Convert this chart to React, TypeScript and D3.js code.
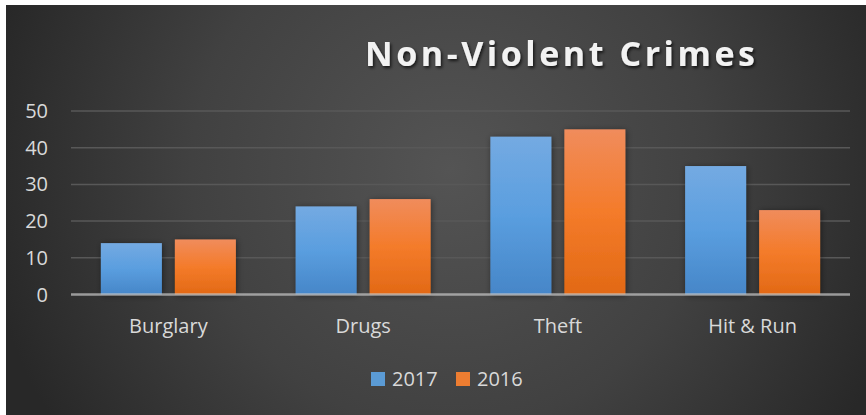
import React from "react";
import * as d3 from "d3";

const categories = ["Burglary", "Drugs", "Theft", "Hit & Run"];
const series2017 = [14, 24, 43, 35];
const series2016 = [15, 26, 45, 23];
const seriesNames = ["2017", "2016"];
const yTicks = [0, 10, 20, 30, 40, 50];
const title = "Non-Violent Crimes";

const W = 866;
const H = 415;
const plot = { left: 71, right: 850, top: 111, bottom: 294.5 };
const font = "'Open Sans', sans-serif";

export default function App() {
  const x0 = d3.scaleBand<string>().domain(categories).range([plot.left, plot.right]).paddingInner(0).paddingOuter(0);
  const y = d3.scaleLinear().domain([0, 50]).range([plot.bottom, plot.top]);
  const bw = 61;
  const gap = 13;
  const data = [series2017, series2016];
  const fills = ["url(#gBlue)", "url(#gOrange)"];
  const legendFills = ["#5b9bd5", "#ed7d31"];

  return (
    <svg width={W} height={H} style={{ position: "absolute", left: 0, top: 0, display: "block" }}>
      <defs>
        <radialGradient id="bg" gradientUnits="userSpaceOnUse" cx={450} cy={170} r={470}>
          <stop offset="0" stopColor="#545454" />
          <stop offset="0.55" stopColor="#414141" />
          <stop offset="1" stopColor="#282828" />
        </radialGradient>
        <linearGradient id="gBlue" x1="0" y1="0" x2="0" y2="1">
          <stop offset="0" stopColor="#74aae2" />
          <stop offset="0.5" stopColor="#5a9edf" />
          <stop offset="1" stopColor="#4686c8" />
        </linearGradient>
        <linearGradient id="gOrange" x1="0" y1="0" x2="0" y2="1">
          <stop offset="0" stopColor="#f08c5c" />
          <stop offset="0.5" stopColor="#f47b2a" />
          <stop offset="1" stopColor="#e26915" />
        </linearGradient>
        <filter id="barShadow" x="-20%" y="-20%" width="140%" height="140%">
          <feDropShadow dx="1" dy="1" stdDeviation="3" floodColor="#000" floodOpacity="0.45" />
        </filter>
        <filter id="titleShadow" x="-10%" y="-30%" width="120%" height="160%">
          <feDropShadow dx="1.5" dy="2" stdDeviation="1.5" floodColor="#000" floodOpacity="0.7" />
        </filter>
      </defs>
      <rect x={0} y={0} width={W} height={H} fill="#ffffff" />
      <rect x={6} y={5} width={W - 6} height={H - 5} fill="url(#bg)" />

      <text
        x={560}
        y={66}
        textAnchor="middle"
        fontFamily={font}
        fontWeight="bold"
        fontSize={34}
        fill="#f2f2f2"
        textLength={390}
        lengthAdjust="spacing"
        filter="url(#titleShadow)"
      >
        {title}
      </text>

      {yTicks.filter((t) => t > 0).map((t) => (
        <line key={t} x1={plot.left} x2={plot.right} y1={y(t)} y2={y(t)} stroke="#585858" strokeWidth={1.5} />
      ))}

      {yTicks.map((t) => (
        <text key={t} x={48} y={y(t) + 7} textAnchor="end" fontFamily={font} fontSize={20} fill="#d9d9d9">
          {t}
        </text>
      ))}

      {categories.map((c, i) => {
        const cx = (x0(c) as number) + x0.bandwidth() / 2;
        return (
          <g key={c}>
            {data.map((s, k) => {
              const bx = k === 0 ? cx - gap / 2 - bw : cx + gap / 2;
              return (
                <rect
                  key={k}
                  x={bx}
                  y={y(s[i])}
                  width={bw}
                  height={y(0) - y(s[i])}
                  fill={fills[k]}
                  filter="url(#barShadow)"
                />
              );
            })}
            <text x={cx} y={333} textAnchor="middle" fontFamily={font} fontSize={20} fill="#d9d9d9">
              {c}
            </text>
          </g>
        );
      })}

      <line x1={plot.left} x2={plot.right} y1={y(0)} y2={y(0)} stroke="#c8c8c8" strokeOpacity={0.7} strokeWidth={2.5} />

      {seriesNames.map((n, k) => {
        const lx = k === 0 ? 371 : 456;
        return (
          <g key={n}>
            <rect x={lx} y={372} width={14} height={14} fill={legendFills[k]} />
            <text x={lx + 21} y={386} fontFamily={font} fontSize={20} fill="#d9d9d9">
              {n}
            </text>
          </g>
        );
      })}
    </svg>
  );
}
